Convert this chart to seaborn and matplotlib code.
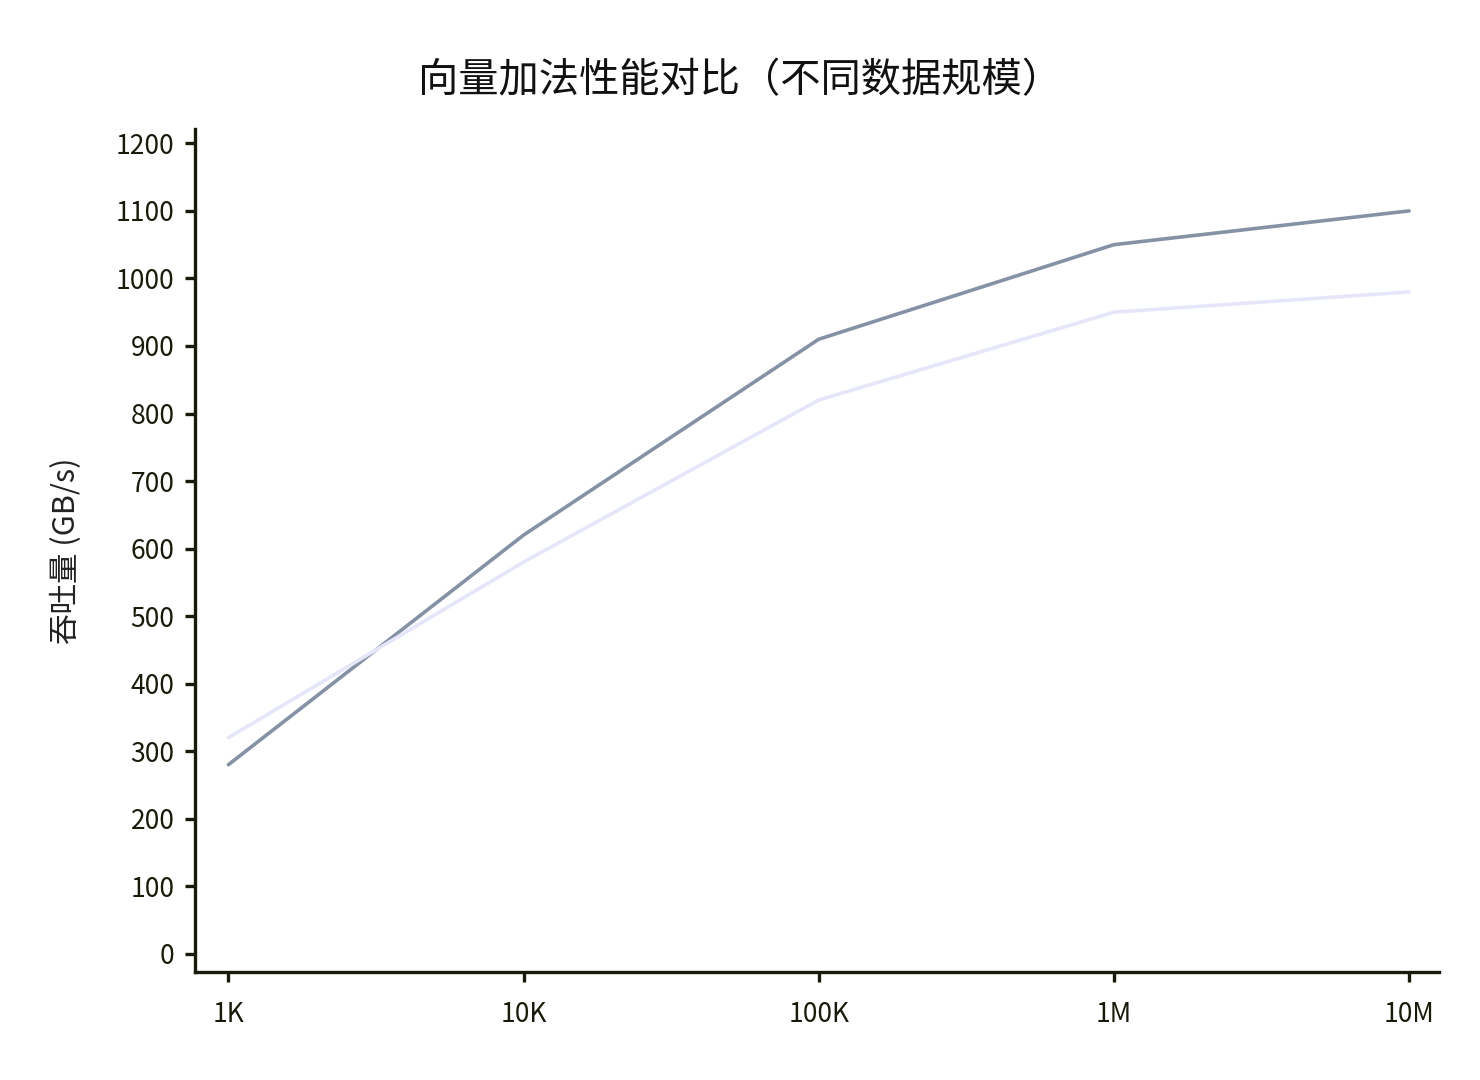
import numpy as np
import pandas as pd
import matplotlib
matplotlib.use("Agg")
import matplotlib.pyplot as plt
import seaborn as sns

sizes = ["1K", "10K", "100K", "1M", "10M"]
series_a = [280, 620, 910, 1050, 1100]
series_b = [320, 580, 820, 950, 980]
series_names = ["A", "B"]

sns.set_style("white")
plt.rcParams['font.family'] = ['Noto Sans CJK SC', 'DejaVu Sans']

df = pd.DataFrame({
    "size": list(range(len(sizes))) * 2,
    "throughput": series_a + series_b,
    "series": [series_names[0]] * len(sizes) + [series_names[1]] * len(sizes),
})

fig = plt.figure(figsize=(14.8, 10.8), dpi=100)
ax = fig.add_axes([0.132, 0.1, 0.84, 0.781])
sns.lineplot(data=df, x="size", y="throughput", hue="series",
             palette={"A": "#8592a6", "B": "#e6e6fa"}, linewidth=2.6,
             legend=False, ax=ax)

axis_color = "#1a1a0a"
for s in ["top", "right"]:
    ax.spines[s].set_visible(False)
for s in ["left", "bottom"]:
    ax.spines[s].set_color(axis_color)
    ax.spines[s].set_linewidth(2.4)

ax.set_xlim(-0.112, 4.1)
ax.set_ylim(-27, 1222)
ax.set_xticks(range(len(sizes)))
ax.set_xticklabels(sizes)
ax.set_yticks(np.arange(0, 1201, 100))
ax.tick_params(axis="both", bottom=True, left=True, colors=axis_color,
               labelcolor=axis_color, labelsize=19, width=2.4, length=7)
ax.tick_params(axis="y", pad=8)
ax.tick_params(axis="x", pad=14)
ax.set_xlabel("")
ax.set_ylabel("吞吐量 (GB/s)", fontsize=22, color="#222", labelpad=24)
fig.suptitle("向量加法性能对比（不同数据规模）", fontsize=29, y=0.944, color="#111")

fig.savefig("out.png", dpi=100)
